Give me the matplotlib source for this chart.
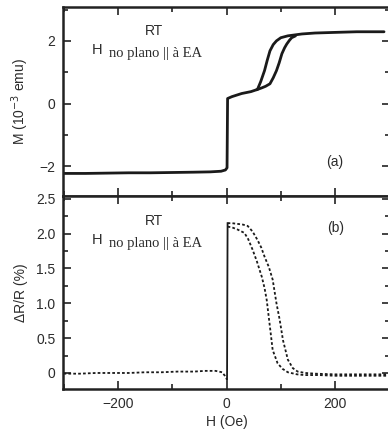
import matplotlib
matplotlib.use("Agg")
import matplotlib.pyplot as plt
from matplotlib.ticker import MultipleLocator

# panel (a): magnetisation
H_neg_a = [-300, -260, -220, -180, -140, -100, -60, -30, -10, -2, 1]
M_neg_a = [-2.23, -2.23, -2.22, -2.21, -2.21, -2.20, -2.19, -2.18, -2.16, -2.12, -2.05]
H_up_a = [2, 10, 28, 45, 57, 63, 70, 75, 80, 86, 92, 100, 113, 139, 163, 200, 240, 290]
M_up_a = [0.16, 0.22, 0.32, 0.38, 0.45, 0.7, 1.05, 1.38, 1.68, 1.88, 2.0, 2.1, 2.16, 2.22, 2.25, 2.27, 2.29, 2.29]
H_lo_a = [57, 65, 72, 80, 86, 92, 97, 102, 107, 111, 116, 120, 126]
M_lo_a = [0.45, 0.5, 0.55, 0.63, 0.82, 1.05, 1.3, 1.59, 1.78, 1.9, 2.02, 2.1, 2.15]

# panel (b): magnetoresistance
H_neg_b = [-300, -270, -240, -210, -180, -150, -120, -90, -60, -40, -20, -8, -3, 0, 1]
R_neg_b = [-0.01, -0.01, 0.0, 0.0, 0.0, 0.01, 0.01, 0.02, 0.02, 0.03, 0.03, 0.01, -0.04, -0.08, -0.1]
H_r_b = [2, 10, 20, 30, 39, 48, 57, 64, 70, 78, 85, 92, 98, 104, 113, 122, 131, 145, 163, 200, 250, 300]
R_r_b = [2.15, 2.15, 2.14, 2.13, 2.11, 2.03, 1.91, 1.80, 1.67, 1.52, 1.34, 1.0, 0.76, 0.47, 0.19, 0.07, 0.02,
         0.0, -0.01, -0.02, -0.02, -0.02]
H_l_b = [2, 10, 20, 33, 40, 48, 56, 65, 70, 74, 80, 85, 94, 103, 113, 130, 144, 170, 200, 250, 300]
R_l_b = [2.10, 2.09, 2.06, 2.01, 1.92, 1.77, 1.6, 1.38, 1.22, 1.05, 0.66, 0.33, 0.14, 0.06, 0.01, -0.02,
         -0.03, -0.03, -0.04, -0.04, -0.04]

W, Hpx = 388, 432
fig = plt.figure(figsize=(W / 100, Hpx / 100), dpi=100)
plt.rcParams["font.family"] = ["Liberation Sans", "DejaVu Sans"]
TXT = "#2b2b2b"


def rect(x0, y0, x1, y1):
    return [x0 / W, 1 - y1 / Hpx, (x1 - x0) / W, (y1 - y0) / Hpx]


ax1 = fig.add_axes(rect(63, 7, 390, 196))
ax2 = fig.add_axes(rect(63, 196, 390, 389))

lc = "#1a1a1a"
ax1.plot(H_neg_a + H_up_a, M_neg_a + M_up_a, color=lc, lw=2.0, solid_capstyle="round")
ax1.plot(H_lo_a, M_lo_a, color=lc, lw=2.0)
ax1.set_ylim(-2.95, 3.08)
ax1.yaxis.set_major_locator(MultipleLocator(2))
ax1.yaxis.set_minor_locator(MultipleLocator(1))
ax1.set_yticks([-2, 0, 2])
ax1.set_yticklabels(["\u22122", "0", "2"])
ax1.set_ylabel("M (10$^{-3}$ emu)", fontsize=10, color=TXT, labelpad=6)
ax1.tick_params(labelbottom=False)

ax2.plot(H_neg_b, R_neg_b, color=lc, lw=1.3, linestyle=(0, (1.5, 1.2)))
ax2.plot([H_neg_b[-1], H_r_b[0]], [R_neg_b[-1], R_r_b[0]], color=lc, lw=1.3)
ax2.plot(H_r_b, R_r_b, color=lc, lw=1.3, linestyle=(0, (1.5, 1.2)))
ax2.plot(H_l_b, R_l_b, color=lc, lw=1.3, linestyle=(0, (1.5, 1.2)))
ax2.set_ylim(-0.23, 2.54)
ax2.yaxis.set_major_locator(MultipleLocator(0.5))
ax2.yaxis.set_minor_locator(MultipleLocator(0.25))
ax2.set_yticks([0, 0.5, 1.0, 1.5, 2.0, 2.5])
ax2.set_yticklabels(["0", "0.5", "1.0", "1.5", "2.0", "2.5"])
ax2.set_ylabel("\u0394R/R (%)", fontsize=10, color=TXT, labelpad=6)
ax2.set_xlabel("H (Oe)", fontsize=10, color=TXT, labelpad=3)

for ax in (ax1, ax2):
    ax.set_xlim(-301, 301)
    ax.xaxis.set_major_locator(MultipleLocator(200))
    ax.xaxis.set_minor_locator(MultipleLocator(100))
    ax.tick_params(which="both", direction="in", top=True, right=True, colors="#222222",
                   labelcolor=TXT, labelsize=10, width=1.2, pad=5.5)
    ax.tick_params(which="major", length=6)
    ax.tick_params(which="minor", length=3.5)
    for s in ax.spines.values():
        s.set_linewidth(1.8)
        s.set_color("#222222")

ax2.set_xticks([-200, 0, 200])
ax2.set_xticklabels(["\u2212200", "0", "200"])


def fx(x):
    return x / W


def fy(y):
    return 1 - y / Hpx


for y_rt, y_h in [(31, 50), (221, 240)]:
    fig.text(fx(154), fy(y_rt), "RT", fontsize=10, color=TXT, ha="center", va="center")
    fig.text(fx(92), fy(y_h), "H", fontsize=10.5, color=TXT, ha="left", va="center")
    fig.text(fx(109), fy(y_h + 3), "no plano || \u00e0 EA", fontsize=10.5, color=TXT,
             family=["Liberation Serif", "DejaVu Serif"], ha="left", va="center")

fig.text(fx(335), fy(162), "(a)", fontsize=10, color=TXT, ha="center", va="center")
fig.text(fx(336), fy(228), "(b)", fontsize=10, color=TXT, ha="center", va="center")

fig.savefig("out.png", dpi=100)
